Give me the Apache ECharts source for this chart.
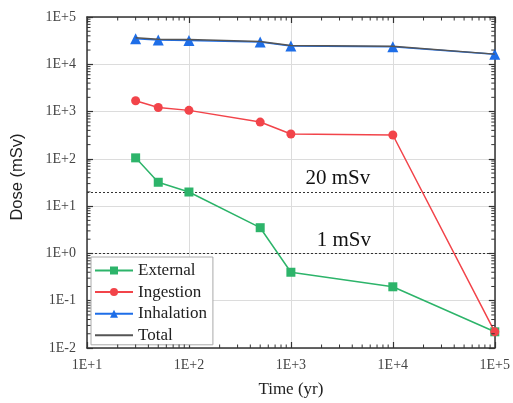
<!DOCTYPE html>
<html>
<head>
<meta charset="utf-8">
<script src="https://cdn.jsdelivr.net/npm/echarts@6/dist/echarts.min.js"></script>
<style>html,body{margin:0;padding:0;background:#fff;}#c{width:513px;height:403px;}</style>
</head>
<body>
<div id="c"></div>
<script>
// ---- data ----
const years = [30, 50, 100, 500, 1000, 10000, 100000];
const external = [105, 32, 19.9, 3.5, 0.40, 0.197, 0.022];
const ingestion = [1690, 1220, 1060, 600, 335, 320, 0.022];
const inhalation = [34500, 32500, 32000, 29500, 24500, 23500, 16300];
const total = [36400, 34000, 33300, 30200, 25000, 24000, 16400];
const limits = [20, 1];
const limitLabels = ['20 mSv', '1 mSv'];
const xTickLabels = ['1E+1', '1E+2', '1E+3', '1E+4', '1E+5'];
const yTickLabels = ['1E-2', '1E-1', '1E+0', '1E+1', '1E+2', '1E+3', '1E+4', '1E+5'];
const seriesNames = ['External', 'Ingestion', 'Inhalation', 'Total'];

const X_MIN = 10, X_MAX = 100000, Y_MIN = 0.01, Y_MAX = 100000;
const serif = 'Liberation Serif';

function expOf(v){ return Math.round(Math.log10(v)); }
function xLabel(v){ return xTickLabels[expOf(v) - 1] || ''; }
function yLabel(v){ return yTickLabels[expOf(v) + 2] || ''; }

// minor tick positions (2..9 within each decade)
const xMinor = [], yMinor = [];
for (let e = 1; e < 5; e++) for (let m = 2; m <= 9; m++) xMinor.push([m * Math.pow(10, e), 1]);
for (let e = -2; e < 5; e++) for (let m = 2; m <= 9; m++) yMinor.push([100, +(m * Math.pow(10, e)).toPrecision(3)]);

const axisLineStyle = { color: '#333', width: 1.5 };
const pair = a => years.map((x, i) => [x, a[i]]);

const chart = echarts.init(document.getElementById('c'));
chart.setOption({
  animation: false,
  backgroundColor: '#fff',
  grid: { left: 87, right: 16, top: 17, bottom: 55, containLabel: false },
  xAxis: [{
    type: 'log', logBase: 10, min: X_MIN, max: X_MAX, interval: 1,
    position: 'bottom',
    name: 'Time (yr)', nameLocation: 'middle', nameGap: 33,
    nameTextStyle: { fontFamily: serif, fontSize: 17, color: '#222' },
    axisLine: { lineStyle: axisLineStyle },
    axisTick: { inside: true, length: 6, lineStyle: { color: '#333', width: 1.2 } },
    axisLabel: { formatter: xLabel, fontFamily: serif, fontSize: 14, color: '#444', margin: 10 },
    splitLine: { show: true, lineStyle: { color: '#dcdcdc', width: 1 } }
  }, {
    type: 'log', logBase: 10, min: X_MIN, max: X_MAX, interval: 1,
    position: 'top',
    axisLine: { lineStyle: axisLineStyle },
    axisTick: { inside: true, length: 6, lineStyle: { color: '#333', width: 1.2 } },
    axisLabel: { show: false }, splitLine: { show: false }
  }],
  yAxis: [{
    type: 'log', logBase: 10, min: Y_MIN, max: Y_MAX, interval: 1,
    position: 'left',
    name: 'Dose (mSv)', nameLocation: 'middle', nameGap: 61,
    nameTextStyle: { fontFamily: 'Liberation Sans', fontSize: 16.5, color: '#222', padding: [0, 0, 0, 11] },
    axisLine: { lineStyle: axisLineStyle },
    axisTick: { inside: true, length: 6, lineStyle: { color: '#333', width: 1.2 } },
    axisLabel: { formatter: yLabel, fontFamily: serif, fontSize: 14, color: '#444', margin: 11 },
    splitLine: { show: true, lineStyle: { color: '#dcdcdc', width: 1 } }
  }, {
    type: 'log', logBase: 10, min: Y_MIN, max: Y_MAX, interval: 1,
    position: 'right',
    axisLine: { lineStyle: axisLineStyle },
    axisTick: { inside: true, length: 6, lineStyle: { color: '#333', width: 1.2 } },
    axisLabel: { show: false }, splitLine: { show: false }
  }],
  legend: {
    data: [
      { name: 'External' }, { name: 'Ingestion' }, { name: 'Inhalation' },
      { name: 'Total', itemStyle: { opacity: 0 } }
    ],
    orient: 'vertical', left: 91, top: 257,
    backgroundColor: '#fff',
    borderColor: '#aaa', borderWidth: 1, borderRadius: 0,
    padding: [5, 6, 1, 3],
    itemWidth: 38, itemHeight: 10, itemGap: 4.6,
    textStyle: { fontFamily: serif, fontSize: 17, color: '#222', lineHeight: 17 }
  },
  series: [
    {
      name: 'External', type: 'line', data: pair(external),
      symbol: 'rect', symbolSize: 9,
      itemStyle: { color: '#2db46a' }, lineStyle: { color: '#2db46a', width: 1.5 }, z: 5,
      markLine: {
        silent: true, symbol: 'none',
        lineStyle: { color: '#333', type: [2, 2], width: 1 },
        data: limits.map((v, i) => ({
          yAxis: v,
          label: { show: true, formatter: limitLabels[i], position: 'insideMiddleTop',
                   offset: [i === 0 ? 47 : 53, i === 0 ? 2 : 3],
                   fontFamily: serif, fontSize: 21, color: '#111' }
        }))
      }
    },
    {
      name: 'Ingestion', type: 'line', data: pair(ingestion),
      symbol: 'circle', symbolSize: 9,
      itemStyle: { color: '#f2444a' }, lineStyle: { color: '#f2444a', width: 1.5 }, z: 6
    },
    {
      name: 'Inhalation', type: 'line', data: pair(inhalation),
      symbol: 'triangle', symbolSize: 11,
      itemStyle: { color: '#1e6ee8' }, lineStyle: { color: '#1e6ee8', width: 1.5 }, z: 6
    },
    {
      name: 'Total', type: 'line', data: pair(total),
      symbol: 'none',
      itemStyle: { color: '#555' }, lineStyle: { color: '#555', width: 1.5 }, z: 7
    },
    {
      type: 'custom', silent: true, clip: false, z: 10,
      data: xMinor,
      renderItem: function (params, api) {
        const b = api.coord([api.value(0), Y_MIN]);
        const t = api.coord([api.value(0), Y_MAX]);
        const st = { stroke: '#333', lineWidth: 1 };
        return { type: 'group', children: [
          { type: 'line', shape: { x1: b[0], y1: b[1], x2: b[0], y2: b[1] - 3.5 }, style: st },
          { type: 'line', shape: { x1: t[0], y1: t[1], x2: t[0], y2: t[1] + 3.5 }, style: st }
        ]};
      }
    },
    {
      type: 'custom', silent: true, clip: false, z: 10,
      data: yMinor,
      renderItem: function (params, api) {
        const l = api.coord([X_MIN, api.value(1)]);
        const r = api.coord([X_MAX, api.value(1)]);
        const st = { stroke: '#333', lineWidth: 1 };
        return { type: 'group', children: [
          { type: 'line', shape: { x1: l[0], y1: l[1], x2: l[0] + 3.5, y2: l[1] }, style: st },
          { type: 'line', shape: { x1: r[0], y1: r[1], x2: r[0] - 3.5, y2: r[1] }, style: st }
        ]};
      }
    }
  ]
});
</script>
</body>
</html>
